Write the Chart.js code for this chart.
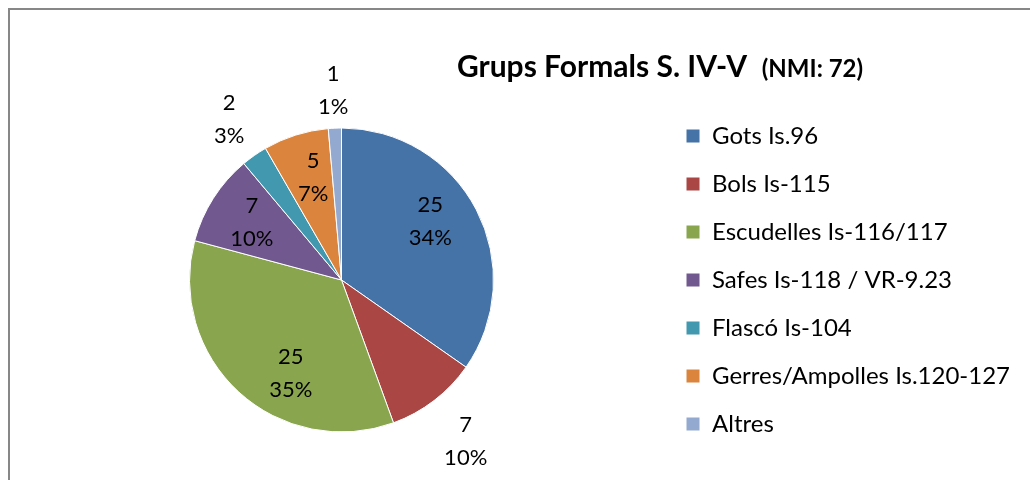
<!DOCTYPE html>
<html>
<head>
<meta charset="utf-8">
<script src="https://cdn.jsdelivr.net/npm/chart.js@4.4.1/dist/chart.umd.min.js"></script>
<style>
  html, body { margin: 0; padding: 0; background: #fff; }
  #wrap { width: 1030px; height: 480px; position: relative; }
</style>
</head>
<body>
<div id="wrap"><canvas id="can1" width="1030" height="480"></canvas></div>
<script>
// Dades del gràfic
const categories = ["Gots Is.96", "Bols Is-115", "Escudelles Is-116/117", "Safes Is-118 / VR-9.23",
  "Flascó Is-104", "Gerres/Ampolles Is.120-127", "Altres"];
const valors = [25, 7, 25, 7, 2, 5, 1];
const percentatges = ["34%", "10%", "35%", "10%", "3%", "7%", "1%"];
const colors = ["#4572A7", "#AA4643", "#89A54E", "#71588F", "#4198AF", "#DB843D", "#93A9CF"];

const FONT = "Lato, 'Noto Sans', sans-serif";

// Etiquetes: dins o fora del sector (distància fora = radi + valor)
const etiquetaFora = [false, true, false, false, true, false, true];
const distFora = [0, 52, 0, 0, 44, 0, 38];
const ajustAngle = [-6, 0, -14, 0, 0, 2, 0];

// Marc i títol
const marcTitol = {
  id: "marcTitol",
  afterDraw(chart) {
    const ctx = chart.ctx;
    ctx.save();
    ctx.fillStyle = "#878787";
    ctx.fillRect(8, 8, 1030, 2);
    ctx.fillRect(8, 8, 2, 480);
    const t1 = "Grups Formals S. IV-V  ";
    const t2 = "(NMI: 72)";
    ctx.fillStyle = "#000";
    ctx.textBaseline = "alphabetic";
    ctx.font = "bold 30px " + FONT;
    const w1 = ctx.measureText(t1).width;
    ctx.font = "bold 24px " + FONT;
    const w2 = ctx.measureText(t2).width;
    const x0 = 660 - (w1 + w2) / 2;
    ctx.font = "bold 30px " + FONT;
    ctx.fillText(t1, x0, 77);
    ctx.font = "bold 24px " + FONT;
    ctx.fillText(t2, x0 + w1, 77);
    ctx.restore();
  }
};

// Valors i percentatges sobre el pastís
const etiquetes = {
  id: "etiquetes",
  afterDatasetsDraw(chart) {
    const ctx = chart.ctx;
    const meta = chart.getDatasetMeta(0);
    ctx.save();
    ctx.font = "22px " + FONT;
    ctx.fillStyle = "#000";
    ctx.textAlign = "center";
    ctx.textBaseline = "middle";
    meta.data.forEach((arc, i) => {
      const p = arc.getProps(["x", "y", "startAngle", "endAngle", "outerRadius"], true);
      const a = (p.startAngle + p.endAngle) / 2 + ajustAngle[i] * Math.PI / 180;
      const d = etiquetaFora[i] ? p.outerRadius + distFora[i] : p.outerRadius * 0.7;
      const cx = p.x + Math.cos(a) * d;
      const cy = p.y + Math.sin(a) * d;
      ctx.fillText(String(valors[i]), cx, cy - 16.5);
      ctx.fillText(percentatges[i], cx, cy + 16.5);
    });
    ctx.restore();
  }
};

new Chart(document.getElementById("can1"), {
  type: "pie",
  data: {
    labels: categories,
    datasets: [{
      data: valors,
      backgroundColor: colors,
      borderColor: "#ffffff",
      borderWidth: 1,
      radius: 152
    }]
  },
  options: {
    responsive: false,
    animation: false,
    layout: { padding: { top: 90, bottom: 10, left: 21, right: 10 } },
    plugins: {
      tooltip: { enabled: false },
      title: { display: false },
      legend: {
        position: "right",
        labels: {
          boxWidth: 14,
          boxHeight: 14,
          padding: 24,
          color: "#000",
          font: { family: FONT, size: 24 }
        }
      }
    }
  },
  plugins: [marcTitol, etiquetes]
});
</script>
</body>
</html>
